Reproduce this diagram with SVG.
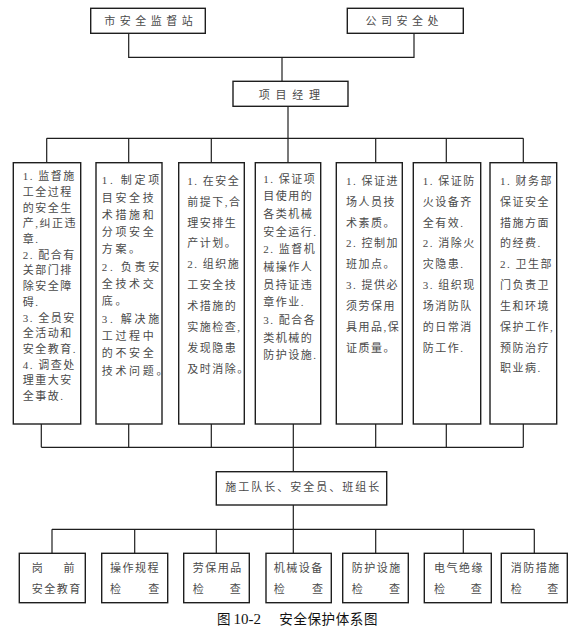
<svg xmlns="http://www.w3.org/2000/svg" width="576" height="626" viewBox="0 0 576 626">
<style>
  .box { fill: #fff; stroke: #1e1e1e; stroke-width: 1.4; }
  .con { fill: none; stroke: #1e1e1e; stroke-width: 1.2; }
  .t { font-family: "Liberation Serif", "Noto Sans CJK SC", serif; font-size: 11px; fill: #4a4a4a; letter-spacing: 1.5px; }
  .w { letter-spacing: 2.7px; }
  .hd { font-family: "Liberation Serif", "Noto Sans CJK SC", serif; font-size: 11px; fill: #4a4a4a; }
  .cap { font-family: "Liberation Serif", "Noto Sans CJK SC", serif; font-size: 13.5px; fill: #111; }
</style>
<rect width="576" height="626" fill="#fff"/>

<g id="connectors">
  <path class="con" d="M128.7,33.3 V57.3 H414 V33.3"/>
  <path class="con" d="M282,57.3 V81.3"/>
  <path class="con" d="M288,106.3 V162.7"/>
  <path class="con" d="M46.7,138.3 H523.3"/>
  <path class="con" d="M46.7,138.3 V162.7 M128.7,138.3 V162.7 M211.3,138.3 V162.7 M375.7,138.3 V162.7 M446.3,138.3 V162.7 M523.3,138.3 V162.7"/>
  <path class="con" d="M41.3,447.3 H523.3"/>
  <path class="con" d="M41.3,424 V447.3 M128.7,424 V447.3 M211.3,424 V447.3 M293.3,424 V471.7 M375.7,424 V447.3 M446.3,424 V447.3 M523.3,424 V447.3"/>
  <path class="con" d="M293.3,505 V553.3"/>
  <path class="con" d="M52,529.3 H534.3"/>
  <path class="con" d="M52,529.3 V553.3 M134.7,529.3 V553.3 M216.3,529.3 V553.3 M375.7,529.3 V553.3 M463.3,529.3 V553.3 M534.3,529.3 V553.3"/>
</g>

<g id="city">
  <rect class="box" x="90.7" y="8.3" width="114.6" height="25"/>
  <text class="hd" x="104.3" y="25.2" style="letter-spacing:4.5px">市安全监督站</text>
</g>
<g id="company">
  <rect class="box" x="347.3" y="8.3" width="116" height="25"/>
  <text class="hd" x="365.5" y="25.2" style="letter-spacing:4.5px">公司安全处</text>
</g>
<g id="pm">
  <rect class="box" x="233" y="81.3" width="115" height="25"/>
  <text class="hd" x="258.7" y="99.2" style="letter-spacing:5.8px">项目经理</text>
</g>

<g id="m1">
  <rect class="box" x="13.3" y="162.7" width="67.4" height="261.3"/>
  <text class="t" y="180.2">
    <tspan x="22.7">1. 监督施</tspan><tspan x="22.7" dy="15.7">工全过程</tspan><tspan x="22.7" dy="15.7">的安全生</tspan><tspan x="22.7" dy="15.7">产,纠正违</tspan><tspan x="22.7" dy="15.7">章.</tspan><tspan x="22.7" dy="15.7">2. 配合有</tspan><tspan x="22.7" dy="15.7">关部门排</tspan><tspan x="22.7" dy="15.7">除安全障</tspan><tspan x="22.7" dy="15.7">碍.</tspan><tspan x="22.7" dy="15.7">3. 全员安</tspan><tspan x="22.7" dy="15.7">全活动和</tspan><tspan x="22.7" dy="15.7">安全教育.</tspan><tspan x="22.7" dy="15.7">4. 调查处</tspan><tspan x="22.7" dy="15.7">理重大安</tspan><tspan x="22.7" dy="15.7">全事故.</tspan>
  </text>
</g>
<g id="m2">
  <rect class="box" x="96" y="162.7" width="66" height="261.3"/>
  <text class="t w" y="184.2">
    <tspan x="101.7">1. 制定项</tspan><tspan x="101.7" dy="17.3">目安全技</tspan><tspan x="101.7" dy="17.3">术措施和</tspan><tspan x="101.7" dy="17.3">分项安全</tspan><tspan x="101.7" dy="17.3">方案。</tspan><tspan x="101.7" dy="17.3">2. 负责安</tspan><tspan x="101.7" dy="17.3">全技术交</tspan><tspan x="101.7" dy="17.3">底。</tspan><tspan x="101.7" dy="17.3">3. 解决施</tspan><tspan x="101.7" dy="17.3">工过程中</tspan><tspan x="101.7" dy="17.3">的不安全</tspan><tspan x="101.7" dy="17.3">技术问题。</tspan>
  </text>
</g>
<g id="m3">
  <rect class="box" x="178.7" y="162.7" width="65.6" height="261.3"/>
  <text class="t" y="184.9">
    <tspan x="187.3">1. 在安全</tspan><tspan x="187.3" dy="20.85">前提下,合</tspan><tspan x="187.3" dy="20.85">理安排生</tspan><tspan x="187.3" dy="20.85">产计划。</tspan><tspan x="187.3" dy="20.85">2. 组织施</tspan><tspan x="187.3" dy="20.85">工安全技</tspan><tspan x="187.3" dy="20.85">术措施的</tspan><tspan x="187.3" dy="20.85">实施检查,</tspan><tspan x="187.3" dy="20.85">发现隐患</tspan><tspan x="187.3" dy="20.85">及时消除。</tspan>
  </text>
</g>
<g id="m4">
  <rect class="box" x="255.3" y="162.7" width="65.4" height="261.3"/>
  <text class="t" y="182.5">
    <tspan x="263.3">1. 保证项</tspan><tspan x="263.3" dy="17.67">目使用的</tspan><tspan x="263.3" dy="17.67">各类机械</tspan><tspan x="263.3" dy="17.67">安全运行.</tspan><tspan x="263.3" dy="17.67">2. 监督机</tspan><tspan x="263.3" dy="17.67">械操作人</tspan><tspan x="263.3" dy="17.67">员持证违</tspan><tspan x="263.3" dy="17.67">章作业.</tspan><tspan x="263.3" dy="17.67">3. 配合各</tspan><tspan x="263.3" dy="17.67">类机械的</tspan><tspan x="263.3" dy="17.67">防护设施.</tspan>
  </text>
</g>
<g id="m5">
  <rect class="box" x="336.3" y="162.7" width="66" height="261.3"/>
  <text class="t" y="184.9">
    <tspan x="346">1. 保证进</tspan><tspan x="346" dy="20.83">场人员技</tspan><tspan x="346" dy="20.83">术素质。</tspan><tspan x="346" dy="20.83">2. 控制加</tspan><tspan x="346" dy="20.83">班加点。</tspan><tspan x="346" dy="20.83">3. 提供必</tspan><tspan x="346" dy="20.83">须劳保用</tspan><tspan x="346" dy="20.83">具用品,保</tspan><tspan x="346" dy="20.83">证质量。</tspan>
  </text>
</g>
<g id="m6">
  <rect class="box" x="413.3" y="162.7" width="67.4" height="261.3"/>
  <text class="t" y="184.9">
    <tspan x="422.7">1. 保证防</tspan><tspan x="422.7" dy="20.83">火设备齐</tspan><tspan x="422.7" dy="20.83">全有效.</tspan><tspan x="422.7" dy="20.83">2. 消除火</tspan><tspan x="422.7" dy="20.83">灾隐患.</tspan><tspan x="422.7" dy="20.83">3. 组织现</tspan><tspan x="422.7" dy="20.83">场消防队</tspan><tspan x="422.7" dy="20.83">的日常消</tspan><tspan x="422.7" dy="20.83">防工作.</tspan>
  </text>
</g>
<g id="m7">
  <rect class="box" x="490" y="162.7" width="66.7" height="261.3"/>
  <text class="t" y="184.9">
    <tspan x="500">1. 财务部</tspan><tspan x="500" dy="20.83">保证安全</tspan><tspan x="500" dy="20.83">措施方面</tspan><tspan x="500" dy="20.83">的经费.</tspan><tspan x="500" dy="20.83">2. 卫生部</tspan><tspan x="500" dy="20.83">门负责卫</tspan><tspan x="500" dy="20.83">生和环境</tspan><tspan x="500" dy="20.83">保护工作,</tspan><tspan x="500" dy="20.83">预防治疗</tspan><tspan x="500" dy="20.83">职业病.</tspan>
  </text>
</g>

<g id="leader">
  <rect class="box" x="216.3" y="471.7" width="170.4" height="33.3"/>
  <text class="hd" x="225.3" y="490.9" style="letter-spacing:2px">施工队长、安全员、班组长</text>
</g>

<g id="b1">
  <rect class="box" x="19.3" y="553.3" width="66" height="49.4"/>
  <text class="hd" x="31.7" y="571.9">岗</text><text class="hd" x="74.5" y="571.9" text-anchor="end">前</text>
  <text class="t" x="31.7" y="592.5">安全教育</text>
</g>
<g id="b2">
  <rect class="box" x="101.7" y="553.3" width="66" height="49.4"/>
  <text class="t" x="110" y="571.9">操作规程</text>
  <text class="hd" x="110" y="592.5">检</text><text class="hd" x="159.3" y="592.5" text-anchor="end">查</text>
</g>
<g id="b3">
  <rect class="box" x="183.7" y="553.3" width="65.6" height="49.4"/>
  <text class="t" x="192.7" y="571.9">劳保用品</text>
  <text class="hd" x="192.7" y="592.5">检</text><text class="hd" x="240.7" y="592.5" text-anchor="end">查</text>
</g>
<g id="b4">
  <rect class="box" x="266" y="553.3" width="65.3" height="49.4"/>
  <text class="t" x="273.7" y="571.9">机械设备</text>
  <text class="hd" x="273.7" y="592.5">检</text><text class="hd" x="323" y="592.5" text-anchor="end">查</text>
</g>
<g id="b5">
  <rect class="box" x="342.7" y="553.3" width="65.6" height="49.4"/>
  <text class="t" x="351.7" y="571.9">防护设施</text>
  <text class="hd" x="351.7" y="592.5">检</text><text class="hd" x="400" y="592.5" text-anchor="end">查</text>
</g>
<g id="b6">
  <rect class="box" x="424.3" y="553.3" width="67" height="49.4"/>
  <text class="t" x="434" y="571.9">电气绝缘</text>
  <text class="hd" x="434" y="592.5">检</text><text class="hd" x="481.7" y="592.5" text-anchor="end">查</text>
</g>
<g id="b7">
  <rect class="box" x="501.3" y="553.3" width="66" height="49.4"/>
  <text class="t" x="510.7" y="571.9">消防措施</text>
  <text class="hd" x="510.7" y="592.5">检</text><text class="hd" x="558.3" y="592.5" text-anchor="end">查</text>
</g>

<g id="caption">
  <text class="cap" x="217" y="623.5">图</text>
  <text class="cap" x="233.5" y="623.5" style="font-size:15px">10-2</text>
  <text class="cap" x="279.3" y="623.5" style="letter-spacing:0.6px">安全保护体系图</text>
</g>
</svg>
